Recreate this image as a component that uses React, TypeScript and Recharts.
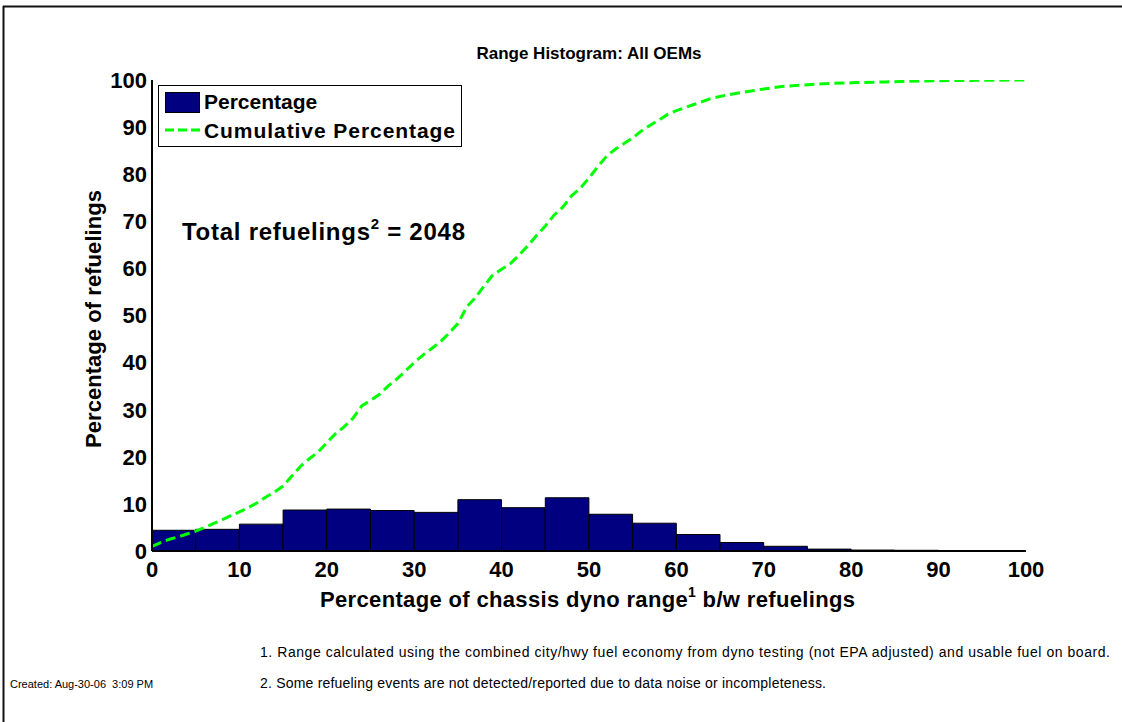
import { Bar, ComposedChart, Line, XAxis, YAxis } from 'recharts'

// MATLAB-style histogram of range between refuelings, with cumulative curve.
const FONT = '"Liberation Sans", Arial, Helvetica, sans-serif'
const NAVY = '#000080'
const GREEN = '#00ff00'

const X_TICKS = [0, 10, 20, 30, 40, 50, 60, 70, 80, 90, 100]
const Y_TICKS = [0, 10, 20, 30, 40, 50, 60, 70, 80, 90, 100]

// histogram bins, 5% wide (centres)
const BIN_CENTERS = [
  2.5, 7.5, 12.5, 17.5, 22.5, 27.5, 32.5, 37.5, 42.5, 47.5,
  52.5, 57.5, 62.5, 67.5, 72.5, 77.5, 82.5, 87.5, 92.5, 97.5,
]
const BIN_PCT = [
  4.4, 4.6, 5.7, 8.7, 8.9, 8.6, 8.2, 10.9, 9.2, 11.3,
  7.8, 5.9, 3.5, 1.8, 1.0, 0.4, 0.2, 0.15, 0.05, 0.05,
]

// cumulative percentage
const CUM_X = [
  0, 1, 2, 3, 4, 5, 6, 7, 8, 9, 10, 11, 12, 13, 14, 15, 16, 17, 18, 19,
  20, 21, 22, 23, 24, 25, 26, 27, 28, 29, 30, 31, 32, 33, 34, 35, 36, 37, 38, 39,
  40, 41, 42, 43, 44, 45, 46, 47, 48, 49, 50, 51, 52, 53, 54, 55, 56, 57, 58, 59,
  60, 62, 64, 66, 68, 70, 72, 74, 76, 78, 80, 84, 88, 92, 96, 100,
]
const CUM_Y = [
  1.0, 1.8, 2.5, 3.0, 3.6, 4.2, 5.0, 5.8, 6.6, 7.5, 8.3, 9.2, 10.2, 11.4, 12.5, 13.8, 15.9, 18.0, 19.6, 21.0,
  23.0, 24.9, 26.4, 28.2, 30.8, 32.0, 33.2, 35.0, 36.5, 38.2, 40.0, 41.6, 43.0, 44.4, 46.3, 48.3, 51.8, 53.8, 56.3, 58.6,
  59.8, 61.0, 62.8, 64.8, 67.0, 69.0, 71.3, 73.0, 75.4, 77.0, 79.2, 81.6, 83.8, 85.3, 86.5, 87.7, 89.2, 90.4, 91.5, 92.7,
  93.5, 94.8, 96.1, 96.9, 97.5, 98.1, 98.6, 98.9, 99.1, 99.3, 99.4, 99.6, 99.8, 99.9, 99.95, 100,
]

const bins = BIN_CENTERS.map((x, i) => ({ x, pct: BIN_PCT[i] }))
const cum = CUM_X.map((x, i) => ({ x, cum: CUM_Y[i] }))

const W = 1122
const H = 722
const PLOT_W = 874
const tickStyle = { fontSize: 22, fontWeight: 700, fill: '#000', fontFamily: FONT }

export default function App() {
  return (
    <div
      style={{
        position: 'fixed',
        left: 0,
        top: 0,
        width: W,
        height: H,
        overflow: 'hidden',
        background: '#fff',
        fontFamily: FONT,
      }}
    >
      <div style={{ position: 'absolute', left: 0, top: 0 }}>
        <ComposedChart
          width={W}
          height={H}
          data={bins}
          margin={{ top: 80, right: 96, bottom: 141, left: 92 }}
          barCategoryGap={0}
          barGap={0}
        >
          <XAxis
            xAxisId="x"
            dataKey="x"
            type="number"
            domain={[0, 100]}
            ticks={X_TICKS}
            interval={0}
            allowDataOverflow
            height={30}
            tickLine={false}
            tickSize={0}
            tickMargin={10}
            axisLine={{ stroke: '#000', strokeWidth: 2 }}
            tick={tickStyle}
          />
          <XAxis
            xAxisId="xIn"
            dataKey="x"
            type="number"
            domain={[0, 100]}
            ticks={X_TICKS}
            interval={0}
            allowDataOverflow
            mirror
            height={0}
            tick={false}
            tickSize={8}
            axisLine={false}
            tickLine={{ stroke: '#000' }}
          />
          <XAxis
            xAxisId="xTop"
            orientation="top"
            dataKey="x"
            type="number"
            domain={[0, 100]}
            ticks={X_TICKS}
            interval={0}
            allowDataOverflow
            mirror
            height={0}
            tick={false}
            tickSize={8}
            axisLine={{ stroke: '#000', strokeWidth: 1.5 }}
            tickLine={{ stroke: '#000' }}
          />
          <XAxis
            xAxisId="lx"
            dataKey="x"
            type="number"
            domain={[0, 100]}
            hide
            height={0}
            allowDataOverflow
          />
          <YAxis
            yAxisId="y"
            type="number"
            domain={[0, 100]}
            ticks={Y_TICKS}
            interval={0}
            allowDataOverflow
            width={60}
            tickLine={false}
            tickSize={0}
            tickMargin={5}
            axisLine={{ stroke: '#000', strokeWidth: 2 }}
            tick={tickStyle}
          />
          <YAxis
            yAxisId="yIn"
            type="number"
            domain={[0, 100]}
            ticks={Y_TICKS}
            interval={0}
            allowDataOverflow
            mirror
            width={0}
            tick={false}
            tickSize={8}
            axisLine={false}
            tickLine={{ stroke: '#000' }}
          />
          <YAxis
            yAxisId="yR"
            orientation="right"
            type="number"
            domain={[0, 100]}
            ticks={Y_TICKS}
            interval={0}
            allowDataOverflow
            mirror
            width={0}
            tick={false}
            tickSize={8}
            axisLine={{ stroke: '#000', strokeWidth: 1.5 }}
            tickLine={{ stroke: '#000' }}
          />
          <Bar
            xAxisId="x"
            yAxisId="y"
            dataKey="pct"
            name="Percentage"
            fill={NAVY}
            stroke="#000"
            strokeWidth={1}
            barSize={PLOT_W / 20 - 0.1}
            isAnimationActive={false}
          />
          <Line
            xAxisId="lx"
            yAxisId="y"
            data={cum}
            dataKey="cum"
            name="Cumulative Percentage"
            type="linear"
            stroke={GREEN}
            strokeWidth={3}
            strokeDasharray="10 5"
            dot={false}
            activeDot={false}
            isAnimationActive={false}
          />
        </ComposedChart>
      </div>

      {/* frame, titles, legend, notes */}
      <svg
        width={W}
        height={H}
        style={{ position: 'absolute', left: 0, top: 0, pointerEvents: 'none' }}
        fontFamily={FONT}
      >
        <line x1={3} y1={6.5} x2={W} y2={6.5} stroke="#111" strokeWidth={2} />
        <line x1={3.5} y1={6} x2={3.5} y2={H} stroke="#111" strokeWidth={2} />

        <text x={589} y={59} textAnchor="middle" fontSize={17} fontWeight={700}>
          Range Histogram: All OEMs
        </text>

        <text
          transform="translate(101,319) rotate(-90)"
          textAnchor="middle"
          fontSize={22}
          fontWeight={700}
          textLength={258}
          lengthAdjust="spacing"
        >
          Percentage of refuelings
        </text>

        <text x={320} y={607} fontSize={22} fontWeight={700} textLength={535} lengthAdjust="spacing">
          Percentage of chassis dyno range
          <tspan fontSize={14} dy={-10}>1</tspan>
          <tspan dy={10}> b/w refuelings</tspan>
        </text>

        <text x={182} y={240} fontSize={24} fontWeight={700} textLength={283} lengthAdjust="spacing">
          Total refuelings
          <tspan fontSize={15} dy={-11}>2</tspan>
          <tspan dy={11}> = 2048</tspan>
        </text>

        {/* legend */}
        <rect x={158.5} y={85.5} width={303} height={61} fill="#fff" stroke="#000" strokeWidth={1} />
        <rect x={165.5} y={92.5} width={34} height={20} fill={NAVY} stroke="#000" strokeWidth={1} />
        <text x={204} y={109} fontSize={21} fontWeight={700}>
          Percentage
        </text>
        <line x1={165} y1={130} x2={200} y2={130} stroke={GREEN} strokeWidth={3} strokeDasharray="9 4" />
        <text x={204} y={138} fontSize={21} fontWeight={700} textLength={251} lengthAdjust="spacing">
          Cumulative Percentage
        </text>

        <text x={260} y={657} fontSize={14} textLength={850} lengthAdjust="spacing">
          1. Range calculated using the combined city/hwy fuel economy from dyno testing (not EPA adjusted) and usable fuel on board.
        </text>
        <text x={260} y={688} fontSize={14} textLength={566} lengthAdjust="spacing">
          2. Some refueling events are not detected/reported due to data noise or incompleteness.
        </text>
        <text x={10} y={688} fontSize={11} xmlSpace="preserve">
          Created: Aug-30-06  3:09 PM
        </text>
      </svg>
    </div>
  )
}
